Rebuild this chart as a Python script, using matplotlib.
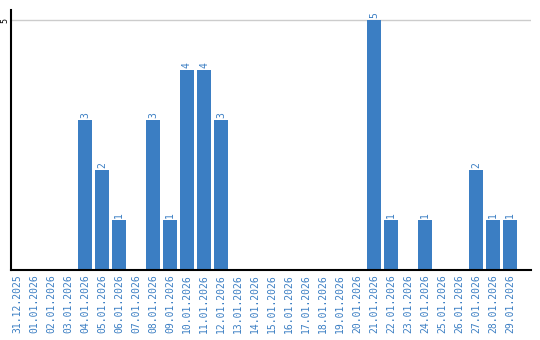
import matplotlib
matplotlib.use("Agg")
import matplotlib.pyplot as plt
import numpy as np

dates = ["31.12.2025", "01.01.2026", "02.01.2026", "03.01.2026", "04.01.2026",
         "05.01.2026", "06.01.2026", "07.01.2026", "08.01.2026", "09.01.2026",
         "10.01.2026", "11.01.2026", "12.01.2026", "13.01.2026", "14.01.2026",
         "15.01.2026", "16.01.2026", "17.01.2026", "18.01.2026", "19.01.2026",
         "20.01.2026", "21.01.2026", "22.01.2026", "23.01.2026", "24.01.2026",
         "25.01.2026", "26.01.2026", "27.01.2026", "28.01.2026", "29.01.2026"]
counts = [0, 0, 0, 0, 3, 2, 1, 0, 3, 1, 4, 4, 3, 0, 0,
          0, 0, 0, 0, 0, 0, 5, 1, 0, 1, 0, 0, 2, 1, 1]

BLUE = "#3b7ec3"

fig = plt.figure(figsize=(5.4, 3.4), dpi=100)
ax = fig.add_axes([11 / 540, 70 / 340, 520 / 540, 260 / 340])

x = np.arange(len(dates))
ax.bar(x, counts, width=0.82, color=BLUE, zorder=2)
for xi, c in zip(x, counts):
    if c > 0:
        ax.text(xi, c + 0.05, str(c), rotation=90, ha="center", va="bottom",
                fontsize=7, color=BLUE, family="DejaVu Sans Mono")

ax.set_xlim((11 - 17) / 17, (531 - 17) / 17)
ax.set_ylim(0, 5.2)
ax.axhline(5, color="#cccccc", lw=1, zorder=1)

ax.set_xticks(x)
ax.set_xticklabels(dates, rotation=90, fontsize=7, color=BLUE,
                   family="DejaVu Sans Mono")
ax.set_yticks([5])
ax.set_yticklabels(["5"], rotation=90, fontsize=6, va="center",
                   family="DejaVu Sans Mono")
ax.tick_params(axis="x", length=0, pad=3)
ax.tick_params(axis="y", length=0, pad=1)

for s in ("top", "right"):
    ax.spines[s].set_visible(False)
ax.spines["left"].set_linewidth(1.5)
ax.spines["bottom"].set_linewidth(1.5)

fig.savefig("out.png", dpi=100)
